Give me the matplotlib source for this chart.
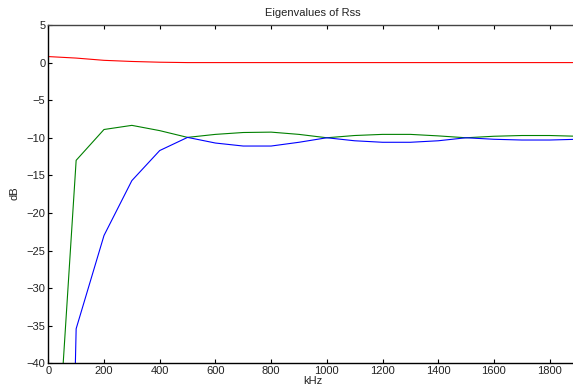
import numpy as np
import matplotlib
matplotlib.use('Agg')
import matplotlib.pyplot as plt

plt.rcParams['font.family'] = ['Liberation Sans', 'DejaVu Sans']

# frequency grid [kHz]
freq = [0, 100, 200, 300, 400, 500, 600, 700, 800, 900, 1000,
        1100, 1200, 1300, 1400, 1500, 1600, 1700, 1800, 1900]
# eigenvalues [dB]
ev_red = [0.8, 0.6, 0.3, 0.15, 0.05, 0.0, 0.0, 0.0, 0.0, 0.0, 0.0,
          0.0, 0.0, 0.0, 0.0, 0.0, 0.0, 0.0, 0.0, 0.0]
ev_green = [-71.0, -13.0, -8.9, -8.35, -9.05, -9.95, -9.55, -9.3, -9.25, -9.55, -10.0,
            -9.7, -9.55, -9.55, -9.75, -10.0, -9.8, -9.7, -9.7, -9.8]
ev_blue = [-200.0, -35.4, -23.0, -15.7, -11.7, -9.95, -10.7, -11.1, -11.1, -10.6, -10.0,
           -10.4, -10.6, -10.6, -10.4, -10.0, -10.2, -10.3, -10.3, -10.2]

W, H = 573, 387
fig = plt.figure(figsize=(W/100, H/100), dpi=100)
# axes runs past the right edge of the figure (cropped like the original)
ax = fig.add_axes([48.3/W, (H-363.3)/H, 557/W, 338.3/H])

ax.plot(freq, ev_red, color=(1, 0, 0), lw=0.8)
ax.plot(freq, ev_green, color=(0, 0.5, 0), lw=0.8)
ax.plot(freq, ev_blue, color=(0, 0, 1), lw=0.8)

ax.set_xlim(0, 2000)
ax.set_ylim(-40, 5)
ax.set_xticks(np.arange(0, 1801, 200))
ax.set_yticks(np.arange(-40, 6, 5))
ax.set_yticklabels(['\u2212%d' % -v if v < 0 else '%d' % v for v in range(-40, 6, 5)])
ax.tick_params(direction='in', length=3, width=0.8, labelsize=8, top=True, right=False,
               pad=2, colors='black', labelcolor='#222222')
for s in ['left', 'bottom']:
    ax.spines[s].set_linewidth(1.0)
ax.spines['top'].set_linewidth(1.0)
ax.spines['top'].set_color('#444444')
ax.spines['right'].set_visible(False)

fig.text(313/W, 1 - 13/H, 'Eigenvalues of Rss', ha='center', va='center', fontsize=8, color='#222222')
fig.text(313/W, 1 - 381/H, 'kHz', ha='center', va='center', fontsize=8, color='#222222')
fig.text(15/W, 1 - 193/H, 'dB', ha='center', va='center', fontsize=8, rotation=90, color='#222222')

fig.savefig('out.png', dpi=100)
